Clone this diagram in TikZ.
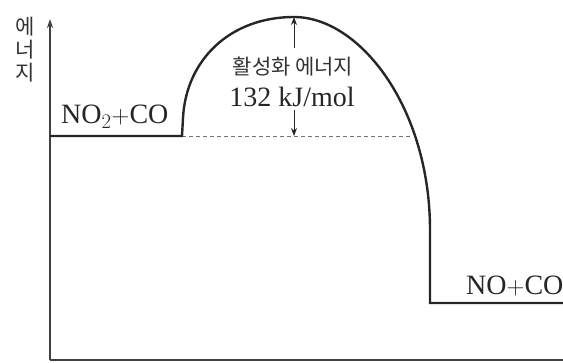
\documentclass[tikz,border=0pt]{standalone}
\usepackage{fontspec}
\setmainfont{Liberation Serif}
\newfontfamily\kor{Noto Sans CJK KR}
\usetikzlibrary{arrows.meta}
\tikzset{
  axisline/.style={line width=2pt, draw=black!75},
  levelline/.style={line width=2.4pt, draw=black!85, line join=miter},
  dashline/.style={line width=0.9pt, draw=black!55, dash pattern=on 4pt off 3pt},
  dimline/.style={line width=1pt, draw=black!85, -{Stealth[length=8pt,width=6pt]}},
  serlabel/.style={font=\fontsize{28}{30}\selectfont, text=black!85, inner sep=0pt},
  korlabel/.style={font=\kor\fontsize{21}{23}\selectfont, text=black!80, inner sep=0pt}
}
\begin{document}
\begin{tikzpicture}[x=1pt,y=-1pt]
\useasboundingbox (0,0) rectangle (563,362);
% coordinates
\coordinate (org) at (50,360);
\coordinate (ytop) at (50,19);
\coordinate (xend) at (563,360);
\coordinate (r0) at (50,136);
\coordinate (r1) at (182,136);
\coordinate (r2) at (183,118);
\coordinate (pk) at (294,17);
\coordinate (p1) at (430,230);
\coordinate (p2) at (430,303);
\coordinate (p3) at (563,303);
\coordinate (dend) at (412,136);
\coordinate (base) at (294,136);
% axes
\draw[axisline, -{Stealth[length=9pt,width=6pt]}] (org) -- (ytop);
\draw[axisline] (org) -- (xend);
% dashed line
\draw[dashline] (r1) -- (dend);
% energy curve
\draw[levelline] (r0) -- (r1) -- (r2) .. controls (186,60) and (230,17) .. (pk)
   .. controls (360,17) and (430,108) .. (p1) -- (p2) -- (p3);
% labels
\node[korlabel, align=center] (ylab) at (25,50) {에\\[0pt]너\\[0pt]지};
\node[korlabel] (act) at (293,67) {활성화 에너지};
\node[serlabel] (kj) at (292,97) {132 kJ/mol};
\node[serlabel, anchor=west] (re) at (61,117) {NO$_2$$+$CO};
\node[serlabel, anchor=west] (pr) at (466,286) {NO$+$CO};
% activation energy arrows
\coordinate (a1) at (294,48);
\coordinate (a2) at (294,110);
\draw[dimline] (a1) -- (pk);
\draw[dimline] (a2) -- (base);
\end{tikzpicture}
\end{document}
